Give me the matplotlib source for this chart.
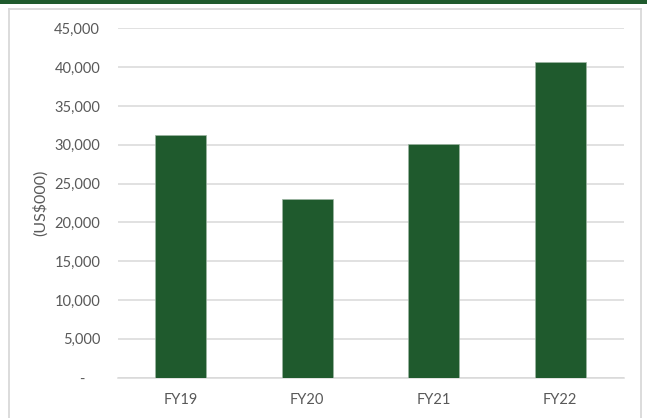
import matplotlib
matplotlib.use("Agg")
import matplotlib.pyplot as plt
from matplotlib.patches import Rectangle
from matplotlib.lines import Line2D
from matplotlib.ticker import FuncFormatter

categories = ["FY19", "FY20", "FY21", "FY22"]
values = [31200, 23000, 30100, 40600]
yticks = [0, 5000, 10000, 15000, 20000, 25000, 30000, 35000, 40000, 45000]

plt.rcParams['font.family'] = ['Lato', 'DejaVu Sans']

W, H = 647, 418
fig = plt.figure(figsize=(W / 100, H / 100), dpi=100)
fig.patch.set_facecolor('white')

# top green band
fig.add_artist(Rectangle((0, 1 - 3.6 / H), 1, 3.6 / H, transform=fig.transFigure,
                         facecolor='#1F5A2D', edgecolor='none'))
# light gray frame (open at bottom)
gc = '#D9D9D9'
x0, x1 = 8.5 / W, 640.5 / W
yt = 1 - 8.5 / H
fig.add_artist(Line2D([x0, x0], [0, yt], transform=fig.transFigure, color=gc, lw=1.3))
fig.add_artist(Line2D([x1, x1], [0, yt], transform=fig.transFigure, color=gc, lw=1.3))
fig.add_artist(Line2D([x0, x1], [yt, yt], transform=fig.transFigure, color=gc, lw=1.3))

left, right = 117.5 / W, 623.5 / W
top, bottom = 1 - 28.3 / H, 1 - 377.5 / H
ax = fig.add_axes([left, bottom, right - left, top - bottom])

x = list(range(len(categories)))
ax.bar(x, values, width=0.40, color='#1F5A2D', edgecolor='#9DB5A2', linewidth=0.5, zorder=3)

ax.set_xlim(-0.5, len(categories) - 0.5)
ax.set_ylim(0, 45000)
ax.set_yticks(yticks)
ax.yaxis.set_major_formatter(FuncFormatter(lambda v, p: '-    ' if v == 0 else f'{int(v):,}'))
ax.set_xticks(x)
ax.set_xticklabels(categories)

ax.grid(axis='y', color=gc, linewidth=1.1, zorder=0)
ax.set_axisbelow(True)
for s in ['top', 'right', 'left']:
    ax.spines[s].set_visible(False)
ax.spines['bottom'].set_color(gc)
ax.spines['bottom'].set_linewidth(1.1)

ax.tick_params(axis='both', length=0, colors='#595959', labelsize=10.5)
ax.tick_params(axis='y', pad=12.5)
ax.tick_params(axis='x', pad=11.5)

ax.set_ylabel('(US$000)', color='#595959', fontsize=11.5, va='center')
ax.yaxis.set_label_coords((40 - 117.5) / 506, 0.5)

fig.savefig('out.png', dpi=100, facecolor='white')
